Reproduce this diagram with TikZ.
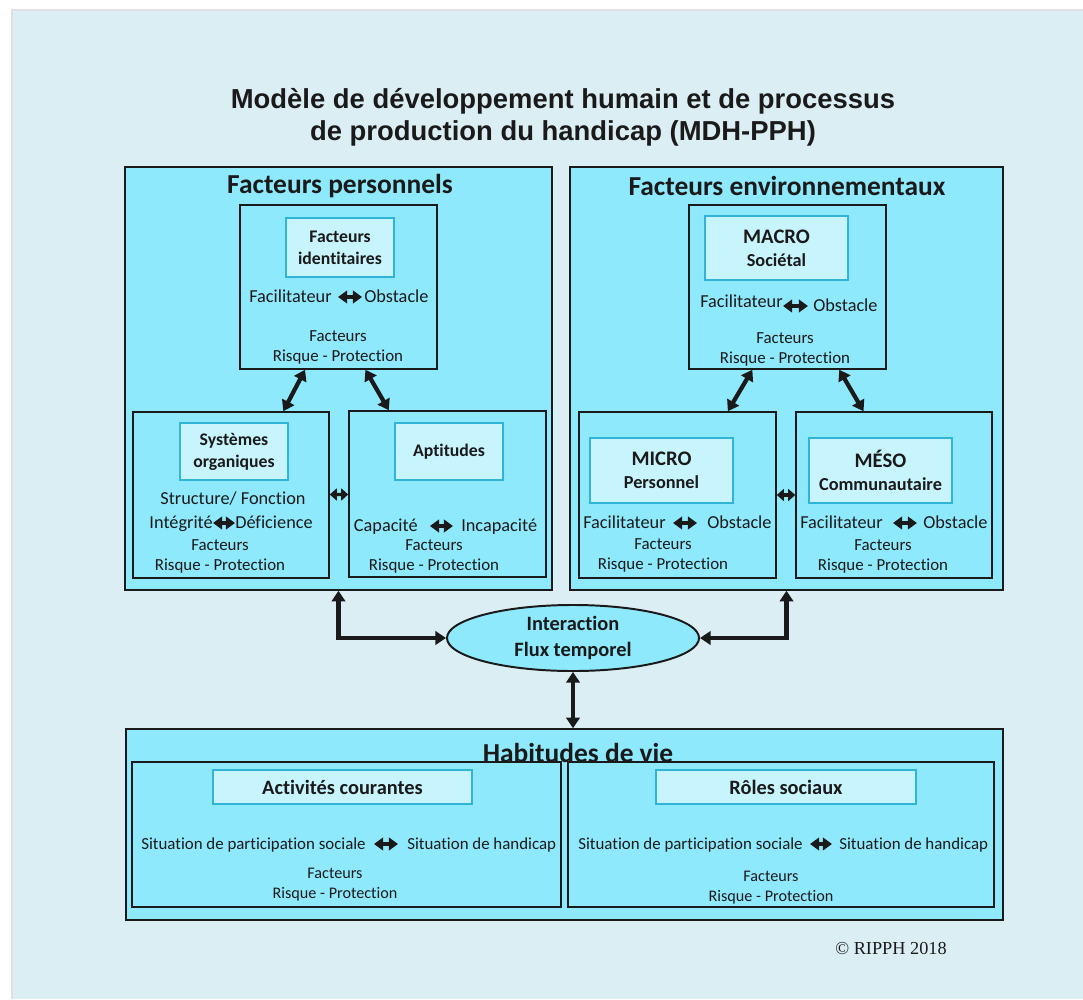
\documentclass[tikz,border=0pt]{standalone}
\usepackage{fontspec}
\setmainfont{Carlito}[Ligatures=NoCommon]
\newfontfamily\arialfont{Liberation Sans}
\newfontfamily\timesfont{Liberation Serif}
\usetikzlibrary{arrows.meta, positioning, fit, shapes.geometric}
\definecolor{PanelBlue}{RGB}{219,238,244}
\definecolor{BoxCyan}{RGB}{142,233,252}
\definecolor{TagCyan}{RGB}{200,244,253}
\definecolor{TagEdge}{RGB}{48,180,216}
\definecolor{Ink}{RGB}{26,26,26}
\tikzset{
  bigbox/.style={draw=Ink, fill=BoxCyan, line width=1.1pt, inner sep=0pt},
  tagbox/.style={draw=TagEdge, fill=TagCyan, line width=1.3pt, inner sep=0pt, align=center, font=\bfseries\fontsize{12.6}{15.5}\selectfont},
  levelbox/.style={tagbox, minimum width=3.575cm, minimum height=1.6cm, font=\bfseries\fontsize{13}{16.4}\selectfont},
  headtxt/.style={font=\bfseries\fontsize{19.5}{23}\selectfont, inner sep=0pt},
  bodytxt/.style={font=\fontsize{13}{16}\selectfont, inner sep=0pt, align=center},
  risktxt/.style={font=\fontsize{12}{14.2}\selectfont, inner sep=0pt, align=center},
  piece/.style={font=\fontsize{13}{16}\selectfont, inner sep=0pt, text height=8.4pt, text depth=0pt},
  lr/.style={line width=2.4pt, {Triangle[length=6.5pt,width=9pt]}-{Triangle[length=6.5pt,width=9pt]}},
  gaplr/.style={line width=2.4pt, {Triangle[length=5pt,width=8.5pt]}-{Triangle[length=5pt,width=8.5pt]}},
  bigarr/.style={line width=3pt, {Triangle[length=7.5pt,width=9.5pt]}-{Triangle[length=7.5pt,width=9.5pt]}}
}
\begin{document}
\begin{tikzpicture}[x=0.025cm, y=-0.025cm, Ink]
\useasboundingbox (0,0) rectangle (1083,999);
\fill[PanelBlue] (12,10) rectangle (1083,999);
\draw[black!12, line width=1pt] (12,999) -- (12,10) -- (1083,10);
\node[font=\arialfont\bfseries\fontsize{19.5}{22.8}\selectfont, align=center] (title) at (563,117) {Modèle de développement humain et de processus\\de production du handicap (MDH-PPH)};

\node[bigbox, fit={(125,167) (552,590)}] (FP) {};
\node[bigbox, fit={(570,167) (1003,590)}] (FE) {};
\node[bigbox, fit={(126,729) (1003,920)}] (HV) {};
\node[headtxt] (FPh) at (340,186) {Facteurs personnels};
\node[headtxt] (FEh) at (787,186) {Facteurs environnementaux};
\node[headtxt] (HVh) at (578,753) {Habitudes de vie};

\node[bigbox, fit={(240,205) (437,369)}] (FI) {};
\node[bigbox, fit={(133,412) (329,578)}] (SO) {};
\node[bigbox, fit={(349,411) (546,577)}] (AP) {};
\node[bigbox, fit={(689,205) (886,369)}] (MA) {};
\node[bigbox, fit={(579,412) (776,578)}] (MI) {};
\node[bigbox, fit={(796,412) (992,578)}] (ME) {};
\node[bigbox, fit={(132,762) (561,907)}] (AC) {};
\node[bigbox, fit={(568,762) (994,907)}] (RS) {};

\node[tagbox, minimum width=2.7cm, minimum height=1.475cm] (FIt) at (340,247.5) {Facteurs\\identitaires};
\node[tagbox, minimum width=2.7cm, minimum height=1.425cm] (SOt) at (234,451.5) {Systèmes\\organiques};
\node[tagbox, minimum width=2.7cm, minimum height=1.425cm] (APt) at (449,451.5) {Aptitudes};
\node[levelbox] (MAt) at (776.5,248) {{\fontsize{14.7}{17}\selectfont MACRO}\\Sociétal};
\node[levelbox, minimum height=1.625cm] (MIt) at (661.5,470.5) {{\fontsize{14.7}{17}\selectfont MICRO}\\Personnel};
\node[levelbox, minimum height=1.625cm] (MEt) at (880.5,470.5) {{\fontsize{14.7}{17}\selectfont MÉSO}\\Communautaire};
\node[tagbox, minimum width=6.475cm, minimum height=0.85cm, font=\bfseries\fontsize{14.5}{17}\selectfont] (ACt) at (342.5,787) {Activités courantes};
\node[tagbox, minimum width=6.5cm, minimum height=0.85cm, font=\bfseries\fontsize{14.5}{17}\selectfont] (RSt) at (786,787) {Rôles sociaux};

\node[piece, anchor=east] (FIa) at (332,297) {Facilitateur};
\node[piece, anchor=west] (FIb) at (364,297) {Obstacle};
\draw[lr, shorten <=4.3pt, shorten >=1.4pt] (FIa) -- (FIb);
\node[risktxt] (FIr) at (338,347) {Facteurs\\Risque - Protection};

\node[bodytxt] (SOs) at (233,499) {Structure/ Fonction};
\node[piece, anchor=east] (SOa) at (213,523) {Intégrité};
\node[piece, anchor=west] (SOb) at (235,523) {Déficience};
\draw[lr] (SOa) -- (SOb);
\node[risktxt] (SOr) at (220,556) {Facteurs\\Risque - Protection};

\node[piece, anchor=east] (APa) at (418,526) {Capacité};
\node[piece, anchor=west] (APb) at (461,526) {Incapacité};
\draw[lr, shorten <=8.5pt, shorten >=5.7pt] (APa) -- (APb);
\node[risktxt] (APr) at (434,556) {Facteurs\\Risque - Protection};

\node[piece, anchor=east] (MAa) at (783,302) {Facilitateur};
\node[piece, anchor=west] (MAb) at (813,306) {Obstacle};
\draw[lr, shorten >=3.6pt] (MAb.west -| MAa.east) -- (MAb.west);
\node[risktxt] (MAr) at (785,349) {Facteurs\\Risque - Protection};

\node[piece, anchor=east] (MIa) at (666,523) {Facilitateur};
\node[piece, anchor=west] (MIb) at (707,523) {Obstacle};
\draw[lr, shorten <=5pt, shorten >=7.1pt] (MIa) -- (MIb);
\node[risktxt] (MIr) at (663,555) {Facteurs\\Risque - Protection};

\node[piece, anchor=east] (MEa) at (883,523) {Facilitateur};
\node[piece, anchor=west] (MEb) at (923,523) {Obstacle};
\draw[lr, shorten <=7.1pt, shorten >=4.3pt] (MEa) -- (MEb);
\node[risktxt] (MEr) at (883,556) {Facteurs\\Risque - Protection};

\node[piece, anchor=east, font=\fontsize{12}{14}\selectfont] (ACa) at (366,844) {Situation de participation sociale};
\node[piece, anchor=west, font=\fontsize{12}{14}\selectfont] (ACb) at (407,844) {Situation de handicap};
\draw[lr, shorten <=5.7pt, shorten >=6.4pt] (ACa) -- (ACb);
\node[risktxt, font=\fontsize{11.5}{14.2}\selectfont] (ACr) at (335,885) {Facteurs\\Risque - Protection};

\node[piece, anchor=east, font=\fontsize{12}{14}\selectfont] (RSa) at (803,844) {Situation de participation sociale};
\node[piece, anchor=west, font=\fontsize{12}{14}\selectfont] (RSb) at (839,844) {Situation de handicap};
\draw[lr, shorten <=5pt, shorten >=5pt] (RSa) -- (RSb);
\node[risktxt, font=\fontsize{11.5}{14.2}\selectfont] (RSr) at (771,888) {Facteurs\\Risque - Protection};

\draw[bigarr] (FI.-112) -- (SO.58);
\draw[bigarr] (FI.-72) -- (AP.125);
\draw[bigarr] (MA.-113) -- (MI.59);
\draw[bigarr] (MA.-58) -- (ME.110);
\draw[gaplr] (SO) -- (AP);
\draw[gaplr] (MI) -- (ME);

\node[ellipse, draw=Ink, line width=1.4pt, fill=BoxCyan, minimum width=6.3cm, minimum height=1.65cm, inner sep=0pt, align=center, font=\bfseries\fontsize{14.5}{18.5}\selectfont] (IF) at (573,638) {Interaction\\Flux temporel};
\draw[bigarr] (IF) -| (FP);
\draw[bigarr] (IF) -| (FE);
\draw[bigarr] (IF) -- (IF |- HV.north);

\node[font=\timesfont\fontsize{13}{15}\selectfont] (copy) at (891,948) {© RIPPH 2018};
\end{tikzpicture}
\end{document}
